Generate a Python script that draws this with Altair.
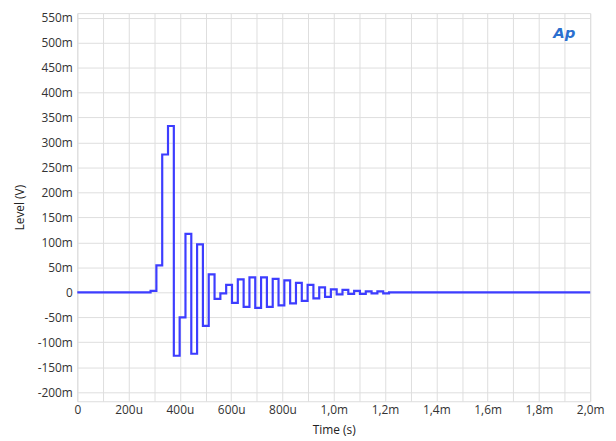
import altair as alt
import pandas as pd

# Sample edges (µs) of the step waveform and the level held from each edge (mV)
time_us = [0, 285.7, 308.4, 331.1, 353.7, 376.4, 399.1, 421.8, 444.5, 467.1,
           489.8, 512.5, 535.2, 557.9, 580.5, 603.2, 625.9, 648.6, 671.3, 693.9,
           716.6, 739.3, 762.0, 784.7, 807.3, 830.0, 852.7, 875.4, 898.1, 920.7,
           943.4, 966.1, 988.8, 1011.5, 1034.1, 1056.8, 1079.5, 1102.2, 1124.9,
           1147.5, 1170.2, 1192.9, 1215.6, 2000]
level_mv = [0, 3, 54, 276, 333, -127, -50, 117, -123, 96,
            -67, 36, -13, -2, 15, -21, 26, -29, 30, -31,
            30, -29, 27, -26, 24, -22, 19, -17, 15, -12,
            10, -9, 6, -4, 5, -3, 3, -3, 2, -2,
            2, -2, 0, 0]

x_grid_values = list(range(0, 2001, 100))
x_label_values = [0, 200, 400, 600, 800, 1000, 1200, 1400, 1600, 1800, 2000]
x_labels = ["0", "200u", "400u", "600u", "800u", "1,0m", "1,2m", "1,4m", "1,6m", "1,8m", "2,0m"]

y_values = list(range(-200, 551, 50))
y_labels = ["-200m", "-150m", "-100m", "-50m", "0", "50m", "100m", "150m", "200m",
            "250m", "300m", "350m", "400m", "450m", "500m", "550m"]

df = pd.DataFrame({"t": time_us, "v": level_mv})


def label_expr(values, labels):
    expr = "''"
    for v, l in zip(reversed(values), reversed(labels)):
        expr = f"datum.value == {v} ? '{l}' : ({expr})"
    return expr


FONT = "Open Sans"

line = alt.Chart(df).mark_line(
    interpolate="step-after", color="#3d3dff", strokeWidth=2.2
).encode(
    x=alt.X("t:Q",
            scale=alt.Scale(domain=[0, 2000], nice=False, zero=False),
            axis=alt.Axis(values=x_grid_values,
                          labelExpr=label_expr(x_label_values, x_labels),
                          title="Time (s)", ticks=False, domain=False,
                          grid=True, gridColor="#dedede", gridWidth=1,
                          labelPadding=3, titlePadding=10,
                          labelFontSize=12, titleFontSize=12,
                          labelFont=FONT, titleFont=FONT,
                          labelColor="#333333", titleColor="#222222",
                          titleFontWeight="normal", labelFlush=False)),
    y=alt.Y("v:Q",
            scale=alt.Scale(domain=[-218, 559], nice=False, zero=False),
            axis=alt.Axis(values=y_values,
                          labelExpr=label_expr(y_values, y_labels),
                          title="Level (V)", ticks=False, domain=False,
                          grid=True, gridColor="#dedede", gridWidth=1,
                          labelPadding=5, titlePadding=11,
                          labelFontSize=12, titleFontSize=12,
                          labelFont=FONT, titleFont=FONT,
                          labelColor="#333333", titleColor="#222222",
                          titleFontWeight="normal", labelFlush=False)),
)

logo = alt.Chart(pd.DataFrame({"txt": ["Ap"]})).mark_text(
    font="DejaVu Sans", fontStyle="italic", fontWeight="bold", fontSize=15,
    color="#2b6fcf", align="center", baseline="middle"
).encode(x=alt.value(492), y=alt.value(20), text="txt:N")

chart = alt.layer(line, logo).properties(
    width=518, height=392,
    autosize=alt.AutoSizeParams(type="none"),
    padding={"left": 70, "top": 3, "right": 18, "bottom": 38},
).configure_view(stroke="#a0a0a0", strokeWidth=2).configure(background="white")

chart.save("out.html", embed_options={"renderer": "svg", "actions": False})
